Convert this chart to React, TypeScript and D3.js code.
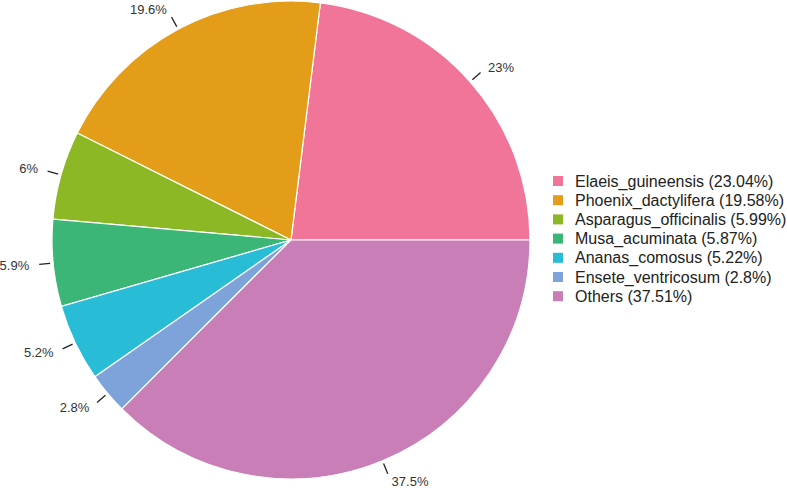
import { useEffect, useRef } from "react";
import * as d3 from "d3";

const names = [
  "Elaeis_guineensis",
  "Phoenix_dactylifera",
  "Asparagus_officinalis",
  "Musa_acuminata",
  "Ananas_comosus",
  "Ensete_ventricosum",
  "Others",
];
const percents = [23.04, 19.58, 5.99, 5.87, 5.22, 2.8, 37.51];
const sliceLabels = ["23%", "19.6%", "6%", "5.9%", "5.2%", "2.8%", "37.5%"];
const colors = ["#f07598", "#e39d18", "#8db826", "#3bb677", "#29bcd6", "#7ea3da", "#c97eb8"];

const W = 787;
const H = 488;

const App = () => {
  const svgRef = useRef<SVGSVGElement>(null);

  useEffect(() => {
    const svg = d3.select(svgRef.current);
    svg.selectAll("*").remove();

    const cx = 291, cy = 240, r = 239;
    const data = names.map((n, i) => ({ name: n, value: percents[i], label: sliceLabels[i], color: colors[i] }));

    // slices run counterclockwise from 3 o'clock
    const pie = d3.pie<any>().value(d => d.value).sort(null)
      .startAngle(Math.PI / 2).endAngle(Math.PI / 2 - 2 * Math.PI);
    const arc = d3.arc<any>().innerRadius(0).outerRadius(r);
    const arcs = pie(data);

    const g = svg.append("g").attr("transform", `translate(${cx},${cy})`);

    g.selectAll("path")
      .data(arcs)
      .join("path")
      .attr("d", arc)
      .attr("fill", d => d.data.color)
      .attr("stroke", "#fff")
      .attr("stroke-width", 1.2);

    const pt = (a: number, rr: number) => [Math.sin(a) * rr, -Math.cos(a) * rr];

    arcs.forEach(d => {
      const a = (d.startAngle + d.endAngle) / 2;
      const p1 = pt(a, r + 3);
      const p2 = pt(a, r + 14);
      g.append("line")
        .attr("x1", p1[0]).attr("y1", p1[1])
        .attr("x2", p2[0]).attr("y2", p2[1])
        .attr("stroke", "#222")
        .attr("stroke-width", 1.3);
      const px = pt(a, r + 24)[0];
      const py = Math.max(-cy + 8, Math.min(H - cy - 6, pt(a, r + 22)[1]));
      const s = Math.sin(a);
      g.append("text")
        .attr("x", px)
        .attr("y", py)
        .attr("dy", "0.35em")
        .attr("text-anchor", Math.abs(s) < 0.3 ? "middle" : s > 0 ? "start" : "end")
        .attr("font-family", "Liberation Sans, Arial, sans-serif")
        .attr("font-size", 13)
        .attr("fill", "#333")
        .text(d.data.label);
    });

    const legend = svg.append("g").attr("transform", "translate(553,181)");
    const rows = legend.selectAll("g")
      .data(data)
      .join("g")
      .attr("transform", (d, i) => `translate(0,${i * 19.2})`);
    rows.append("rect")
      .attr("x", 0).attr("y", -5)
      .attr("width", 10).attr("height", 10)
      .attr("fill", d => d.color);
    rows.append("text")
      .attr("x", 22)
      .attr("dy", "0.35em")
      .attr("font-family", "Liberation Sans, Arial, sans-serif")
      .attr("font-size", 16)
      .attr("fill", "#222")
      .text(d => `${d.name} (${d.value}%)`);
  }, []);

  return <svg ref={svgRef} width={W} height={H} style={{ position: "absolute", left: 0, top: 0 }}></svg>;
};

export default App;
